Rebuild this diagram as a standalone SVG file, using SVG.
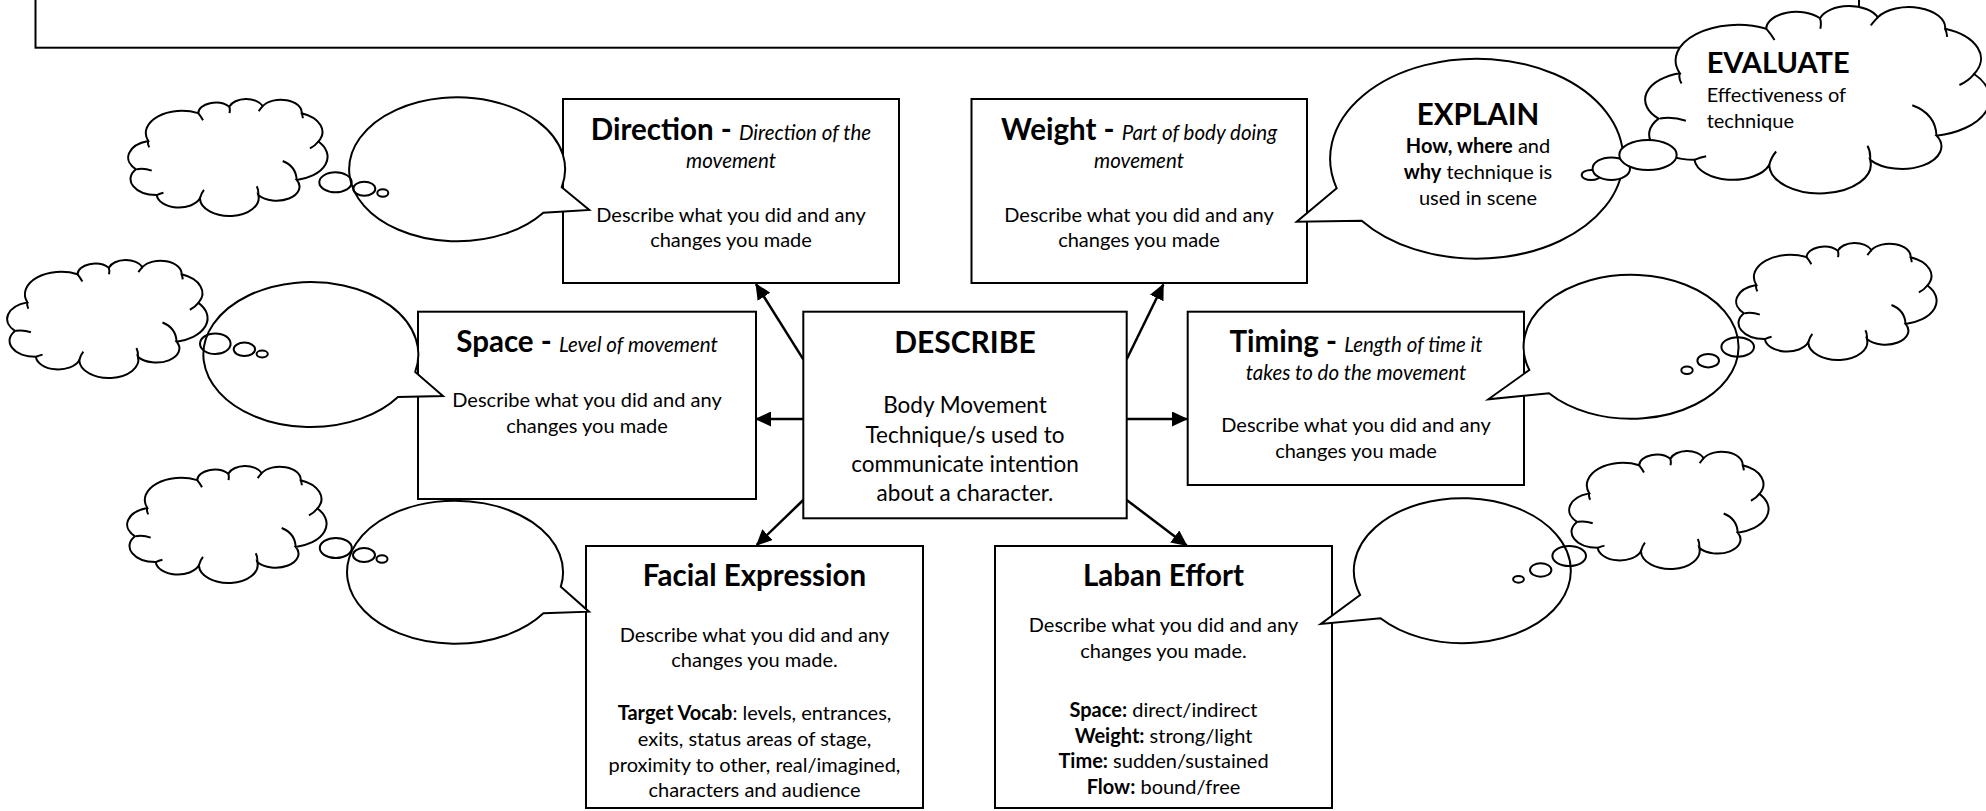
<svg xmlns="http://www.w3.org/2000/svg" xmlns:xlink="http://www.w3.org/1999/xlink" width="1986" height="811" viewBox="0 0 1986 811">
<style>
.bg{fill:#fff}
.box{fill:#fff;stroke:#000;stroke-width:2}
.ln{fill:none;stroke:#000;stroke-width:2}
.bub{fill:#fff;stroke:#000;stroke-width:2;stroke-linejoin:miter}
.th{fill:none;stroke:#000;stroke-width:2}
.cl{fill:#fff;stroke:#000;stroke-width:2;vector-effect:non-scaling-stroke}
.ci{fill:none;stroke:#000;stroke-width:2;vector-effect:non-scaling-stroke}
.con{fill:none;stroke:#000;stroke-width:2.5}
text{font-family:Lato,"Liberation Sans",sans-serif;fill:#000}
.c{text-anchor:middle}
.tt{font-weight:bold;font-size:29.5px}
.it{font-style:italic;font-size:20.5px}
.bd{font-size:20px}
.db{font-size:22.5px}
</style>
<defs>
<marker id="ah" viewBox="0 0 16 15" markerWidth="16" markerHeight="15" refX="15" refY="7.5" orient="auto" markerUnits="userSpaceOnUse">
<path d="M0,0 L16,7.5 L0,15 Z" fill="#000"/>
</marker>
<g id="cloud">
<path class="cl" d="M2.6 59.6 A14.5 14.5 0 0 1 9 35.6 A18.8 18.8 0 0 1 35 12 A9.1 9.1 0 0 1 51.2 6.5 A9.2 9.2 0 0 1 68.6 6 A10.9 10.9 0 0 1 88.9 12 A17 17 0 0 1 97.6 36 A20 20 0 0 1 86.3 68.6 A11.9 11.9 0 0 1 66.3 81.4 A15.3 15.3 0 1 1 35.9 84.2 A11.6 11.6 0 0 1 13.4 81.4 A13.5 13.5 0 0 1 2.6 59.6 Z"/>
<path class="ci" d="M3 59.5 Q7 58.5 10.8 60.7 M79 52.5 Q86 57 86.3 68.6 M93.2 41.8 Q96 39.5 97.6 36 M35.9 84.2 Q36.5 80 38 77 M66.3 81.4 Q66.5 77 65.5 74 M35 12 Q36.5 15 37.5 18 M51.2 6.5 Q51.7 9 51.3 12 M68.6 6 Q67.5 8 66.5 10.2 M88.9 12 Q89.4 14 89.5 16.3 M13.4 81.4 Q15 80.2 16.9 79.5 M9 35.6 Q8.5 38 9.5 41"/>
</g>
</defs>
<rect class="bg" x="0" y="0" width="1986" height="811"/>

<g id="header">
<rect class="ln" x="35.5" y="-10" width="1823.5" height="57.7"/>
</g>

<g id="clouds">
<use id="cloud-direction" xlink:href="#cloud" transform="translate(131,99) scale(1.92,1.18)"/>
<use id="cloud-space" xlink:href="#cloud" transform="translate(10,260) scale(1.93,1.19)"/>
<use id="cloud-facial" xlink:href="#cloud" transform="translate(130,466) scale(1.92,1.18)"/>
<use id="cloud-timing" xlink:href="#cloud" transform="translate(1739,243) scale(1.93,1.18)"/>
<use id="cloud-laban" xlink:href="#cloud" transform="translate(1572,451) scale(1.92,1.19)"/>
</g>

<g id="evaluate">
<use xlink:href="#cloud" transform="translate(1650,6) scale(3.32,1.89)"/>
<text x="1706.7" y="72.7" class="tt" style="font-size:29px">EVALUATE</text>
<text x="1706.7" y="101.7" class="bd">Effectiveness of</text>
<text x="1706.7" y="127.7" class="bd">technique</text>
</g>

<g id="connectors">
<path class="con" d="M803.3 359.3 L756 284" marker-end="url(#ah)"/>
<path class="con" d="M1126.7 359.3 L1163.3 284.5" marker-end="url(#ah)"/>
<path class="con" d="M803.3 419 L756 419" marker-end="url(#ah)"/>
<path class="con" d="M1126.7 419 L1187 419" marker-end="url(#ah)"/>
<path class="con" d="M803.3 500 L756.7 545" marker-end="url(#ah)"/>
<path class="con" d="M1126.7 500 L1186.7 545.5" marker-end="url(#ah)"/>
</g>

<g id="describe">
<rect class="box" x="803.3" y="311.7" width="323.4" height="206.6"/>
<text x="965" y="352.7" class="c tt" style="font-size:30px">DESCRIBE</text>
<text x="965" y="412.7" class="c db">Body Movement</text>
<text x="965" y="442.7" class="c db">Technique/s used to</text>
<text x="965" y="471.7" class="c db">communicate intention</text>
<text x="965" y="500.7" class="c db">about a character.</text>
</g>

<g id="direction">
<rect class="box" x="563" y="99" width="336" height="184"/>
<text x="731" y="140" class="c"><tspan class="tt">Direction - </tspan><tspan class="it">Direction of the</tspan></text>
<text x="731" y="168" class="c it">movement</text>
<text x="731" y="222" class="c bd">Describe what you did and any</text>
<text x="731" y="247" class="c bd">changes you made</text>
</g>

<g id="weight">
<rect class="box" x="971.5" y="99" width="335.5" height="184"/>
<text x="1139" y="140" class="c"><tspan class="tt">Weight - </tspan><tspan class="it">Part of body doing</tspan></text>
<text x="1139" y="168" class="c it">movement</text>
<text x="1139" y="222" class="c bd">Describe what you did and any</text>
<text x="1139" y="247" class="c bd">changes you made</text>
</g>

<g id="space">
<rect class="box" x="418" y="311.7" width="338" height="187.3"/>
<text x="587" y="352" class="c"><tspan class="tt">Space - </tspan><tspan class="it">Level of movement</tspan></text>
<text x="587" y="407" class="c bd">Describe what you did and any</text>
<text x="587" y="433" class="c bd">changes you made</text>
</g>

<g id="timing">
<rect class="box" x="1187.7" y="311.7" width="336.3" height="173.3"/>
<text x="1356" y="351.7" class="c"><tspan class="tt">Timing - </tspan><tspan class="it">Length of time it</tspan></text>
<text x="1356" y="380" class="c it">takes to do the movement</text>
<text x="1356" y="431.7" class="c bd">Describe what you did and any</text>
<text x="1356" y="458.3" class="c bd">changes you made</text>
</g>

<g id="facial">
<rect class="box" x="586" y="546" width="337" height="262"/>
<text x="754.5" y="586" class="c tt">Facial Expression</text>
<text x="754.5" y="641.5" class="c bd">Describe what you did and any</text>
<text x="754.5" y="667" class="c bd">changes you made.</text>
<text x="754.5" y="720" class="c bd"><tspan font-weight="bold">Target Vocab</tspan>: levels, entrances,</text>
<text x="754.5" y="745.7" class="c bd">exits, status areas of stage,</text>
<text x="754.5" y="771.5" class="c bd">proximity to other, real/imagined,</text>
<text x="754.5" y="797" class="c bd">characters and audience</text>
</g>

<g id="laban">
<rect class="box" x="995" y="546" width="337" height="262"/>
<text x="1163.5" y="586" class="c tt">Laban Effort</text>
<text x="1163.5" y="631.7" class="c bd">Describe what you did and any</text>
<text x="1163.5" y="657.7" class="c bd">changes you made.</text>
<text x="1163.5" y="716.7" class="c bd"><tspan font-weight="bold">Space:</tspan> direct/indirect</text>
<text x="1163.5" y="742.7" class="c bd"><tspan font-weight="bold">Weight:</tspan> strong/light</text>
<text x="1163.5" y="768.3" class="c bd"><tspan font-weight="bold">Time:</tspan> sudden/sustained</text>
<text x="1163.5" y="794.3" class="c bd"><tspan font-weight="bold">Flow:</tspan> bound/free</text>
</g>

<g id="bubble-direction">
<path class="bub" d="M543.3 212.7 A108 72 0 1 1 561.7 187.3 L589.3 210 Z"/>
<ellipse class="th" cx="335.5" cy="182.3" rx="16.2" ry="10"/>
<ellipse class="th" cx="364.3" cy="188.7" rx="11" ry="7"/>
<ellipse class="th" cx="382.8" cy="193" rx="5.5" ry="3.7"/>
</g>

<g id="bubble-space">
<path class="bub" d="M398 397 A107.5 72.5 0 1 1 415.2 372 L443 396 Z"/>
<ellipse class="th" cx="215.3" cy="343.7" rx="15.3" ry="10.3"/>
<ellipse class="th" cx="244.4" cy="349.3" rx="10.7" ry="6.7"/>
<ellipse class="th" cx="262.2" cy="354" rx="5.6" ry="3.4"/>
</g>

<g id="bubble-facial">
<path class="bub" d="M543.4 613.3 A108 71.5 0 1 1 560.8 586.7 L589 611.7 Z"/>
<ellipse class="th" cx="335.8" cy="548" rx="16" ry="10"/>
<ellipse class="th" cx="364" cy="555" rx="11" ry="7"/>
<ellipse class="th" cx="382" cy="559" rx="5.5" ry="3.7"/>
</g>

<g id="bubble-timing">
<path class="bub" d="M1529.3 370 A107.5 72 0 1 1 1549 393.3 L1488.3 399.3 Z"/>
<ellipse class="th" cx="1737.7" cy="347" rx="16.3" ry="9.7"/>
<ellipse class="th" cx="1708.2" cy="360.7" rx="10.8" ry="6.7"/>
<ellipse class="th" cx="1687" cy="370.3" rx="5.7" ry="3.7"/>
</g>

<g id="bubble-laban">
<path class="bub" d="M1360.1 595 A108.5 72.5 0 1 1 1380.5 618.3 L1320.8 624 Z"/>
<ellipse class="th" cx="1569.2" cy="556" rx="16.8" ry="10"/>
<ellipse class="th" cx="1540.7" cy="570" rx="10.7" ry="6.7"/>
<ellipse class="th" cx="1518.5" cy="579.3" rx="5.4" ry="3.4"/>
</g>

<g id="explain">
<path class="bub" d="M1336.7 188.3 A146.5 100 0 1 1 1361.7 220.7 L1296.7 221.7 Z"/>
<ellipse class="bub" cx="1591.2" cy="175" rx="9.5" ry="5"/>
<ellipse class="bub" cx="1611.3" cy="168.7" rx="18.7" ry="11.3"/>
<ellipse class="bub" cx="1648" cy="155" rx="28.7" ry="15"/>
<text x="1478" y="125" class="c tt">EXPLAIN</text>
<text x="1478" y="152.5" class="c bd"><tspan font-weight="bold">How, where</tspan> and</text>
<text x="1478" y="179" class="c bd"><tspan font-weight="bold">why</tspan> technique is</text>
<text x="1478" y="205" class="c bd">used in scene</text>
</g>
</svg>
